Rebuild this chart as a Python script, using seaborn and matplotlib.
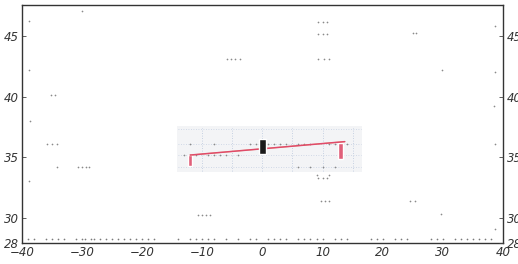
import numpy as np
import pandas as pd
import matplotlib
matplotlib.use("Agg")
import matplotlib.pyplot as plt
import seaborn as sns

# axis ticks
x_ticks = [-40, -30, -20, -10, 0, 10, 20, 30, 40]
y_ticks = [28, 30, 35, 40, 45]

# trend line in the central panel
trend_x = [-12.0, 13.7]
trend_y = [35.2, 36.3]

# red bars (x, top, bottom)
red_x = [-12.0, 13.0]
red_top = [35.2, 36.2]
red_bottom = [34.3, 34.9]

# black box at x = 0
box_x = [0.0]
box_top = [36.5]
box_bottom = [35.3]

# dotted grid inside the panel
panel_vx = [-10, -5, 0, 5, 10, 15]
panel_hy = [37.3, 36.1, 35.2, 34.2]

# stray dots
dots_x = [-30, -35.2, -34.4, -5.9, -5.2, -4.5, -3.8, 9.3, 10.0, 10.8, 9.3, 10.0, 10.8,
          9.3, 10.2, 11.0, 25.0, 25.6, 29.9, -35.8, -35.0, -34.2, -34.2, -30.7, -30.0,
          -29.4, -28.8, -10.7, -10.0, -9.3, -8.7, 9.8, 10.4, 11.0, 24.6, 25.4, 29.7,
          9.3, 10.0, 10.7, -38.8, -38.8, -38.6, -38.8, 38.6, 38.7, 38.5, 38.6, 38.7,
          -2.0, -1.0, 1.0, 2.0, 3.0, 4.0, 6.0, 7.0, 8.0, 11.0, 12.0, 14.0, -13.0, -12.0,
          -11.0, -9.0, -8.0, -7.0, -6.0, -4.0, 6.0, 8.0, 10.0, 12.0, -12.0, -8.0, 9.0, 11.0]
dots_y = [47.0, 40.1, 40.1, 43.1, 43.1, 43.1, 43.1, 46.1, 46.1, 46.1, 45.1, 45.1, 45.1,
          43.1, 43.1, 43.1, 45.2, 45.2, 42.2, 36.1, 36.1, 36.1, 34.2, 34.2, 34.2,
          34.2, 34.2, 30.3, 30.3, 30.3, 30.3, 31.4, 31.4, 31.4, 31.4, 31.4, 30.4,
          33.3, 33.3, 33.3, 46.2, 42.2, 38.0, 33.1, 45.8, 42.0, 39.2, 36.1, 29.1,
          36.1, 36.1, 36.1, 36.1, 36.1, 36.1, 36.1, 36.1, 36.1, 36.1, 36.1, 36.1, 35.2,
          35.2, 35.2, 35.2, 35.2, 35.2, 35.2, 35.2, 34.2, 34.2, 34.2, 34.2, 36.1, 36.1,
          33.6, 33.6]

# dotted row along the bottom
floor_x = [-39, -38, -36, -35, -34, -33, -31, -30, -29.5, -28.5, -28, -27, -26, -25,
           -24, -23, -22, -21, -20, -19, -18, -14, -12, -11, -10, -9, -8, -6, -4, -2,
           -1, 1, 2, 3, 4, 6, 7, 8, 9, 10, 12, 13, 14, 18, 19, 20, 22, 23, 24, 28, 29,
           30, 32, 33, 34, 35, 36, 37, 38]
floor_y = [28.3] * len(floor_x)

sns.set_style("white")
plt.rcParams["font.family"] = ["DejaVu Sans"]

fig = plt.figure(figsize=(5.18, 2.64), dpi=100)
ax = fig.add_axes([0.042, 0.08, 0.929, 0.901])
ax.set_xlim(-40, 40)
ax.set_ylim(28, 47.5)

# light panel behind the fit
ax.axvspan(-14.2, 16.6, ymin=(33.8 - 28) / 19.5, ymax=(37.6 - 28) / 19.5,
           color="#f3f4f6", zorder=0, lw=0)
for vx in panel_vx:
    ax.plot([vx, vx], [33.9, 37.4], color="#b8c6dc", lw=0.6, ls=(0, (1, 2)), zorder=1)
for hy in panel_hy:
    ax.plot([-14, 16.4], [hy, hy], color="#c4d0e2", lw=0.6, ls=(0, (1, 2)), zorder=1)

sns.scatterplot(x=dots_x, y=dots_y, ax=ax, s=1.5, color="#8a8a8a", linewidth=0, zorder=2)
sns.scatterplot(x=floor_x, y=floor_y, ax=ax, s=1.5, color="#7a7a7a", linewidth=0, zorder=2)

ax.bar(red_x, np.array(red_top) - np.array(red_bottom), bottom=red_bottom, width=0.7,
       color="#e0607a", zorder=3)
ax.bar(box_x, np.array(box_top) - np.array(box_bottom), bottom=box_bottom, width=1.2,
       color="#1a1a1a", zorder=5)

fit = pd.DataFrame({"x": trend_x, "y": trend_y})
sns.lineplot(data=fit, x="x", y="y", ax=ax, color="#e2a23a", lw=0.8, alpha=0.6, zorder=3)
sns.lineplot(data=fit, x="x", y="y", ax=ax, color="#e04a6a", lw=1.1, zorder=4)

ax.set_xticks(x_ticks)
ax.set_yticks(y_ticks)
ax.set_xticklabels([str(t).replace("-", "\u2212") for t in x_ticks])
ax.set_xlabel("")
ax.set_ylabel("")
ax.tick_params(direction="in", length=3, width=0.6, colors="#444444",
               labelsize=8.5, pad=2)
for lab in ax.get_xticklabels() + ax.get_yticklabels():
    lab.set_fontstyle("italic")
    lab.set_color("#333333")
for sp in ax.spines.values():
    sp.set_visible(True)
    sp.set_color("#333333")
    sp.set_linewidth(1.0)

ax2 = ax.twinx()
ax2.set_ylim(ax.get_ylim())
ax2.set_yticks(y_ticks)
ax2.tick_params(direction="in", length=3, width=0.6, colors="#444444",
                labelsize=8.5, pad=3)
for lab in ax2.get_yticklabels():
    lab.set_fontstyle("italic")
    lab.set_color("#333333")
for sp in ax2.spines.values():
    sp.set_visible(False)

fig.savefig("out.png", dpi=100)
